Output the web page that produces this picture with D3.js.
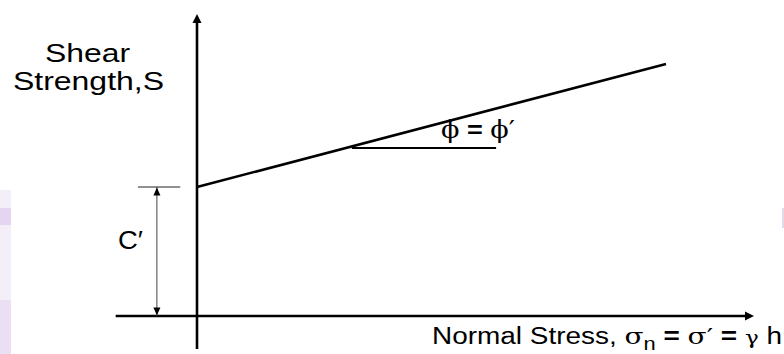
<!DOCTYPE html>
<html>
<head>
<meta charset="utf-8">
<script src="https://cdn.jsdelivr.net/npm/d3@7"></script>
<style>
html,body{margin:0;padding:0;background:#fff;}
svg{display:block;}
</style>
</head>
<body>
<svg id="chart" width="784" height="354"></svg>
<script>
// ---- data (in arbitrary stress units) ----
const envelopeSigma = [0, 84.2];       // normal stress at line ends
const envelopeTau   = [43, 84];        // shear strength at line ends
const cohesion      = 43;              // C'
const angleSigma    = [27.8, 53.7];    // horizontal reference line for phi
const angleTau      = 56;
const xAxisExtent   = [-14.6, 100];
const yAxisExtent   = [-11, 100.7];
const labels = {
  yTitle: ["Shear", "Strength,S"],
  cohesion: "C\u2032",
  angle: ["\u03D5", " = ", "\u03D5\u2032"]
};

const svg = d3.select("#chart");
const x = d3.scaleLinear().domain([0, 100]).range([197, 754]);
const y = d3.scaleLinear().domain([0, 100]).range([316, 16]);

// faint watermark strips
svg.append("rect").attr("x",0).attr("y",190).attr("width",11).attr("height",164).attr("fill","#f4eef9");
svg.append("rect").attr("x",0).attr("y",208).attr("width",11).attr("height",17).attr("fill","#e4d6f0");
svg.append("rect").attr("x",0).attr("y",300).attr("width",11).attr("height",54).attr("fill","#ebe0f3");
svg.append("rect").attr("x",782).attr("y",208).attr("width",2).attr("height",20).attr("fill","#e4d8ec");

const line = d3.line().x(d => x(d[0])).y(d => y(d[1]));

// axes
svg.append("path").attr("d", line([[xAxisExtent[0],0],[xAxisExtent[1]-1.2,0]]))
  .attr("stroke","#000").attr("stroke-width",2.6).attr("fill","none");
svg.append("path").attr("d", line([[0,yAxisExtent[0]],[0,yAxisExtent[1]-2.5]]))
  .attr("stroke","#000").attr("stroke-width",2.6).attr("fill","none");

// arrow heads
function arrow(tx, ty, dir, len, half) {
  let p;
  if (dir === 'up') p = [[tx,ty],[tx-half,ty+len],[tx+half,ty+len]];
  else if (dir === 'down') p = [[tx,ty],[tx-half,ty-len],[tx+half,ty-len]];
  else p = [[tx,ty],[tx-len,ty-half],[tx-len,ty+half]];
  svg.append("path").attr("d","M"+p.map(q=>q.join(",")).join("L")+"Z").attr("fill","#000");
}
arrow(x(0), y(yAxisExtent[1]), 'up', 9, 4.5);
arrow(x(xAxisExtent[1]), y(0), 'right', 9, 4.5);

// failure envelope
svg.append("path")
  .attr("d", line(envelopeSigma.map((s,i)=>[s, envelopeTau[i]])))
  .attr("stroke","#000").attr("stroke-width",2.6).attr("fill","none");

// angle reference line
svg.append("path")
  .attr("d", line([[angleSigma[0], angleTau],[angleSigma[1], angleTau]]))
  .attr("stroke","#000").attr("stroke-width",2).attr("fill","none");

// cohesion tick and dimension line
svg.append("path").attr("d", line([[-10.6, cohesion],[-3, cohesion]]))
  .attr("stroke","#222").attr("stroke-width",1).attr("fill","none");
const dimX = -7.2;
svg.append("path").attr("d", line([[dimX, cohesion],[dimX, 0]]))
  .attr("stroke","#444").attr("stroke-width",1).attr("fill","none");
arrow(x(dimX), y(cohesion)+0.5, 'up', 8, 3.5);
arrow(x(dimX), y(0)-0.5, 'down', 8, 3.5);

// texts
const sans = "'Liberation Sans', Arial, sans-serif";
const serif = "'DejaVu Serif', 'Liberation Serif', serif";
svg.append("text").attr("x",45).attr("y",62).attr("font-family",sans).attr("font-size",25)
  .attr("textLength",85).attr("lengthAdjust","spacingAndGlyphs").text(labels.yTitle[0]);
svg.append("text").attr("x",13).attr("y",90).attr("font-family",sans).attr("font-size",25)
  .attr("textLength",151).attr("lengthAdjust","spacingAndGlyphs").text(labels.yTitle[1]);

svg.append("text").attr("x",118).attr("y",249).attr("font-family",sans).attr("font-size",25)
  .attr("textLength",25).attr("lengthAdjust","spacingAndGlyphs").text(labels.cohesion);

const ang = svg.append("text").attr("x",441).attr("y",138).attr("font-size",24)
  .attr("textLength",74).attr("lengthAdjust","spacingAndGlyphs");
ang.append("tspan").attr("font-family",serif).text(labels.angle[0]);
ang.append("tspan").attr("font-family",sans).attr("font-weight","bold").text(labels.angle[1]);
ang.append("tspan").attr("font-family",serif).text(labels.angle[2]);

const xt = svg.append("text").attr("x",432).attr("y",344).attr("font-size",23)
  .attr("textLength",350).attr("lengthAdjust","spacingAndGlyphs");
xt.append("tspan").attr("font-family",sans).text("Normal Stress, ");
xt.append("tspan").attr("font-family",serif).text("\u03C3");
xt.append("tspan").attr("font-family",sans).attr("font-size",18).attr("dy",6).text("n");
xt.append("tspan").attr("font-family",sans).attr("font-weight","bold").attr("dy",-6).text(" = ");
xt.append("tspan").attr("font-family",serif).text("\u03C3\u2032");
xt.append("tspan").attr("font-family",sans).attr("font-weight","bold").text(" = ");
xt.append("tspan").attr("font-family",serif).attr("font-size",19).text("\u03B3");
xt.append("tspan").attr("font-family",sans).text(" h");
</script>
</body>
</html>
